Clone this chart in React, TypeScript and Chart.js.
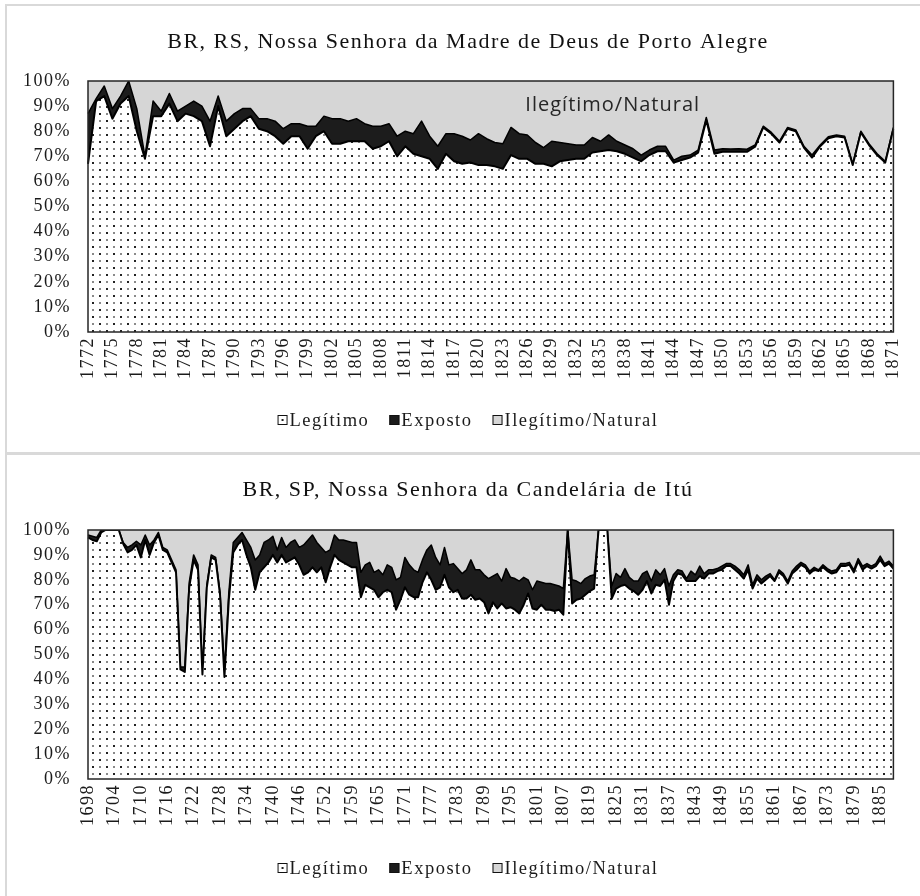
import React, { useEffect, useRef } from "react";
import { Chart, registerables } from "chart.js";

Chart.register(...registerables);

const SERIF = "'Liberation Serif', 'Times New Roman', serif";
const SANS = "'Open Sans', 'Noto Sans', sans-serif";

const span = (a: number, b: number): string[] => {
  const r: string[] = [];
  for (let y = a; y <= b; y++) r.push(String(y));
  return r;
};

// ---------- Panel 1: BR, RS, Porto Alegre ----------
const rsYears = span(1772, 1871);
const rsLegitimo = [
  67, 92, 94, 85, 91, 94, 80, 69, 86, 86,
  91, 84, 87, 86, 84, 74, 90, 78, 81, 84,
  86, 81, 80, 78, 75, 78, 78, 73, 78, 80,
  75, 75, 76, 76, 76, 73, 74, 76, 70, 74,
  71, 70, 69, 65, 71, 68, 67, 67.5, 66.5, 66.5,
  66, 65, 70.5, 69, 69, 67, 67, 66, 68, 68.5,
  69, 69, 71.5, 72, 72.5, 72, 71, 69.5, 68, 70.5,
  72, 72, 67.5, 68.5, 69.5, 71.5, 84.5, 71, 71.8, 71.8,
  71.8, 71.8, 73.8, 81.5, 79, 75.5, 81, 80, 73.5, 69.5,
  74, 77.2, 78, 77.5, 66.5, 79.5, 74.5, 70.5, 67.5, 81,
];
const rsExposto = [
  20, 1, 4, 4, 3, 6, 9, 1, 6, 2,
  4, 4, 3, 6, 6, 10, 4, 6, 6, 5,
  3, 4, 5, 6, 6, 5, 5, 9, 4, 6,
  10, 10, 8, 9, 7, 9, 8, 7, 8, 6,
  8, 14, 9, 9, 8, 11, 11, 9, 12.5, 10.5,
  9.5, 10, 11, 10, 9.5, 8.5, 6.5, 10, 7.5, 6.5,
  5.5, 5.5, 6, 4, 6, 4, 3.5, 3.5, 2.5, 2,
  2, 2, 1, 1.5, 1, 1, 1, 1.5, 1.2, 1.1,
  1.2, 1, 0.7, 0.5, 0.5, 0.5, 0.5, 0.5, 0.5, 1,
  0.5, 0.6, 0.5, 0.5, 0.5, 0.5, 0.5, 0.5, 0.5, 0.5,
];
const rsIlegitimo = [
  13, 7, 2, 11, 6, 0, 11, 30, 8, 12,
  5, 12, 10, 8, 10, 16, 6, 16, 13, 11,
  11, 15, 15, 16, 19, 17, 17, 18, 18, 14,
  15, 15, 16, 15, 17, 18, 18, 17, 22, 20,
  21, 16, 22, 26, 21, 21, 22, 23.5, 21, 23,
  24.5, 25, 18.5, 21, 21.5, 24.5, 26.5, 24, 24.5, 25,
  25.5, 25.5, 22.5, 24, 21.5, 24, 25.5, 27, 29.5, 27.5,
  26, 26, 31.5, 30, 29.5, 27.5, 14.5, 27.5, 27, 27.1,
  27, 27.2, 25.5, 18, 20.5, 24, 18.5, 19.5, 26, 29.5,
  25.5, 22.2, 21.5, 22, 33, 20, 25, 29, 32, 18.5,
];

// ---------- Panel 2: BR, SP, Itú ----------
const spYears = [
  ...span(1698, 1752),
  "1754", "1755", "1756", "1757", "1758",
  ...span(1759, 1807),
  "1808", "1809", "1812", "1815", "1817",
  ...span(1819, 1888),
];
const spLegitimo = [
  97, 96, 95.5, 99, 100, 100, 100, 100, 94.5, 91,
  92, 94, 89, 96, 90, 95, 98, 92, 91, 87,
  83, 44, 43, 77, 88, 84, 42, 77, 89, 88,
  74, 41, 72, 91, 94, 96, 90, 85, 76, 83,
  85, 87, 90, 87, 90, 87, 88, 89, 86, 82,
  83, 85, 83, 85, 79, 85, 90, 88, 87, 86,
  85, 85, 73, 78, 77, 76, 73, 75, 76, 75,
  68, 72, 77, 74, 73, 73, 79, 83, 80, 76,
  77, 82, 77, 75, 76, 72.5, 72.5, 74, 72, 72.5,
  71, 66.5, 71, 68.5, 70.5, 68.5, 69, 68, 66.5, 70,
  74.5, 68.5, 68, 70, 68, 68, 67.5, 68, 66, 100,
  70.5, 72, 72.5, 74, 75.5, 76.5, 100, 100, 100, 72.5,
  76.5, 77.5, 78, 76.5, 75.5, 74, 76, 79.5, 74.5, 78,
  77.5, 80, 70, 79.5, 82.5, 82, 79.5, 79.5, 79.5, 81.5,
  80.5, 82.5, 82.5, 83.5, 84, 85.5, 85.5, 84, 82.5, 80.5,
  84, 76.5, 80.5, 78.5, 80, 81.5, 79.5, 83, 81.5, 78.5,
  82.5, 84, 86, 85, 82.5, 84, 83.5, 85, 83.5, 82.5,
  83, 85.5, 85.5, 86, 83, 87.5, 84, 85.5, 84.5, 85.5,
  88, 85.5, 86.5, 84.5,
];
const spExposto = [
  1, 1.5, 1.5, 1, 0, 0, 0, 0, 0.5, 2,
  2, 1.5, 5, 2, 4, 1, 1, 1, 1, 1,
  1, 1, 2, 2, 2, 2, 1, 1, 1, 1,
  1, 3, 3, 4, 3, 3, 6, 8, 12, 7,
  10, 9, 7.5, 5, 7, 6, 7, 7, 7, 12,
  13, 13, 12, 8, 12, 7, 8, 8, 9, 9.5,
  10, 10, 10, 8, 10, 7, 11, 7, 10, 10,
  12, 9, 12, 12, 11, 10, 9, 9, 14, 13,
  9, 11, 9, 11.5, 8.5, 10, 11.5, 14, 12, 11.5,
  11, 14, 10.5, 14, 9, 16, 12, 12.5, 13, 11,
  5.5, 7.5, 11.5, 9, 10.5, 10.5, 10.5, 9.5, 10.5, 0,
  9.5, 7.5, 6, 6.5, 6, 5.5, 0, 0, 0, 5,
  6, 3.5, 6.5, 4.5, 4, 5.5, 6.5, 4, 5, 6,
  4.5, 4.5, 7.5, 2.5, 1.5, 1.5, 1, 4, 2.5, 4,
  2, 1.5, 1.5, 1, 1.5, 1, 1, 1.5, 1.5, 1.5,
  2, 1.5, 1.5, 1.5, 1.5, 1, 0.5, 1, 1, 1,
  1, 1.5, 1, 1, 1, 1, 0.5, 1, 1, 1,
  1, 1, 1, 1, 1, 1, 1.5, 1, 1, 1,
  1.5, 1, 1, 1,
];
const spIlegitimo = [
  2, 2.5, 3, 0, 0, 0, 0, 0, 5, 7,
  6, 4.5, 6, 2, 6, 4, 1, 7, 8, 12,
  16, 55, 55, 21, 10, 14, 57, 22, 10, 11,
  25, 56, 25, 5, 3, 1, 4, 7, 12, 10,
  5, 4, 2.5, 8, 3, 7, 5, 4, 7, 6,
  4, 2, 5, 7, 9, 8, 2, 4, 4, 4.5,
  5, 5, 17, 14, 13, 17, 16, 18, 14, 15,
  20, 19, 11, 14, 16, 17, 12, 8, 6, 11,
  14, 7, 14, 13.5, 15.5, 17.5, 16, 12, 16, 16,
  18, 19.5, 18.5, 17.5, 20.5, 15.5, 19, 19.5, 20.5, 19,
  20, 24, 20.5, 21, 21.5, 21.5, 22, 22.5, 23.5, 0,
  20, 20.5, 21.5, 19.5, 18.5, 18, 0, 0, 0, 22.5,
  17.5, 19, 15.5, 19, 20.5, 20.5, 17.5, 16.5, 20.5, 16,
  18, 15.5, 22.5, 18, 16, 16.5, 19.5, 16.5, 18, 14.5,
  17.5, 16, 16, 15.5, 14.5, 13.5, 13.5, 14.5, 16, 18,
  14, 22, 18, 20, 18.5, 17.5, 20, 16, 17.5, 20.5,
  16.5, 14.5, 13, 14, 16.5, 15, 16, 14, 15.5, 16.5,
  16, 13.5, 13.5, 13, 16, 11.5, 14.5, 13.5, 14.5, 13.5,
  10.5, 13.5, 12.5, 14.5,
];

const SERIES_NAMES = ["Legítimo", "Exposto", "Ilegítimo/Natural"];
const EXPOSTO_COLOR = "#1c1c1c";
const ILEGIT_COLOR = "#d6d6d6";
const PAD_RIGHT = 21;
const Y_WIDTH = 88;
const TEXT_CENTER = 468;

function makePattern(): CanvasPattern | string {
  const c = document.createElement("canvas");
  c.width = 14;
  c.height = 14;
  const g = c.getContext("2d");
  if (!g) return "#eeeeee";
  g.fillStyle = "#ffffff";
  g.fillRect(0, 0, 14, 14);
  g.fillStyle = "#222222";
  g.fillRect(1, 1, 2, 2);
  g.fillRect(8, 8, 2, 2);
  g.fillStyle = "#8a8a8a";
  g.fillRect(8, 1, 2, 2);
  g.fillRect(1, 8, 2, 2);
  return g.createPattern(c, "repeat") || "#eeeeee";
}

type Note = { text: string; index: number; value: number };
type PanelProps = {
  top: number;
  height: number;
  title: string;
  titleY: number;
  plotTop: number;
  labels: string[];
  legit: number[];
  expo: number[];
  ileg: number[];
  every: number;
  xHeight: number;
  legendY: number;
  note?: Note;
};

function Panel(p: PanelProps) {
  const ref = useRef<HTMLCanvasElement>(null);
  useEffect(() => {
    const canvas = ref.current;
    if (!canvas) return;
    const pattern = makePattern();
    const spacing = {
      id: "spacing",
      beforeUpdate(c: any) {
        c.ctx.letterSpacing = "1.5px";
      },
      beforeDraw(c: any) {
        c.ctx.letterSpacing = "1.5px";
      },
    };
    const deco = {
      id: "deco",
      afterDraw(c: any) {
        const ctx: CanvasRenderingContext2D = c.ctx;
        const a = c.chartArea;
        ctx.save();
        // plot area border
        ctx.strokeStyle = "#262626";
        ctx.lineWidth = 1.5;
        ctx.strokeRect(a.left, a.top, a.right - a.left, a.bottom - a.top);
        // title
        (ctx as any).letterSpacing = "1.5px";
        ctx.font = `22px ${SERIF}`;
        ctx.fillStyle = "#111111";
        ctx.textAlign = "center";
        ctx.textBaseline = "middle";
        ctx.fillText(p.title, TEXT_CENTER, p.titleY);
        // annotation
        if (p.note) {
          (ctx as any).letterSpacing = "1px";
          ctx.font = `20px ${SANS}`;
          ctx.fillStyle = "#262626";
          ctx.textAlign = "center";
          ctx.textBaseline = "middle";
          ctx.fillText(
            p.note.text,
            c.scales.x.getPixelForValue(p.note.index),
            c.scales.y.getPixelForValue(p.note.value)
          );
        }
        // legend
        (ctx as any).letterSpacing = "1.5px";
        ctx.font = `18.5px ${SERIF}`;
        ctx.textAlign = "left";
        ctx.textBaseline = "middle";
        const fills: string[] = ["#ffffff", EXPOSTO_COLOR, ILEGIT_COLOR];
        const box = 10;
        const gap = 2;
        const sep = 20;
        const widths = SERIES_NAMES.map((t) => box + gap + ctx.measureText(t).width);
        const total = widths.reduce((s, w) => s + w, 0) + sep * (SERIES_NAMES.length - 1);
        let x = TEXT_CENTER - total / 2;
        const y = p.legendY;
        SERIES_NAMES.forEach((t, i) => {
          ctx.fillStyle = fills[i];
          ctx.fillRect(x, y - box / 2, box, box);
          if (i === 0) {
            ctx.fillStyle = "#222";
            ctx.fillRect(x + 4, y - 1, 2, 2);
          }
          ctx.strokeStyle = "#111";
          ctx.lineWidth = 1;
          ctx.strokeRect(x + 0.5, y - box / 2 + 0.5, box - 1, box - 1);
          ctx.fillStyle = "#1a1a1a";
          ctx.fillText(t, x + box + gap, y + 1);
          x += widths[i] + sep;
        });
        ctx.restore();
      },
    };
    const chart = new Chart(canvas, {
      type: "line",
      data: {
        labels: p.labels,
        datasets: [
          {
            label: SERIES_NAMES[0],
            data: p.legit,
            backgroundColor: pattern as any,
            borderColor: "#000000",
            borderWidth: 2,
            fill: "origin",
            pointRadius: 0,
            tension: 0,
            borderJoinStyle: "round",
          },
          {
            label: SERIES_NAMES[1],
            data: p.expo,
            backgroundColor: EXPOSTO_COLOR,
            borderColor: "#000000",
            borderWidth: 1.5,
            fill: "-1",
            pointRadius: 0,
            tension: 0,
            borderJoinStyle: "round",
          },
          {
            label: SERIES_NAMES[2],
            data: p.ileg,
            backgroundColor: ILEGIT_COLOR,
            borderColor: "rgba(0,0,0,0)",
            borderWidth: 0,
            fill: "-1",
            pointRadius: 0,
            tension: 0,
          },
        ],
      },
      options: {
        responsive: false,
        animation: false,
        events: [],
        layout: { padding: { left: 0, right: PAD_RIGHT, top: p.plotTop, bottom: 0 } },
        plugins: {
          legend: { display: false },
          tooltip: { enabled: false },
          title: { display: false },
        },
        scales: {
          x: {
            type: "category",
            offset: false,
            grid: { display: false, drawTicks: false },
            border: { display: false },
            ticks: {
              autoSkip: false,
              maxRotation: 90,
              minRotation: 90,
              padding: 5,
              color: "#1a1a1a",
              font: { family: SERIF, size: 18 },
              callback: function (this: any, val: any, idx: number) {
                return idx % p.every === 0 ? this.getLabelForValue(val) : "";
              },
            },
            afterFit: (s: any) => {
              s.height = p.xHeight;
            },
          },
          y: {
            stacked: true,
            min: 0,
            max: 100,
            grid: { display: false, drawTicks: false },
            border: { display: false },
            ticks: {
              stepSize: 10,
              padding: 17,
              color: "#1a1a1a",
              font: { family: SERIF, size: 18 },
              callback: (v: any) => `${v}%`,
            },
            afterFit: (s: any) => {
              s.width = Y_WIDTH;
            },
          },
        },
      },
      plugins: [spacing, deco],
    } as any);
    return () => chart.destroy();
  }, []);
  return (
    <canvas
      ref={ref}
      width={920}
      height={p.height}
      style={{ position: "absolute", left: 0, top: p.top, width: 920, height: p.height }}
    />
  );
}

export default function App() {
  const line = "#d9d9d9";
  return (
    <div style={{ position: "absolute", left: 0, top: 0, width: 920, height: 896, background: "#fff", overflow: "hidden" }}>
      <Panel
        top={0}
        height={450}
        title="BR, RS, Nossa Senhora da Madre de Deus de Porto Alegre"
        titleY={42}
        plotTop={81}
        labels={rsYears}
        legit={rsLegitimo}
        expo={rsExposto}
        ileg={rsIlegitimo}
        every={3}
        xHeight={118}
        legendY={420}
        note={{ text: "Ilegítimo/Natural", index: 64.5, value: 90.5 }}
      />
      <Panel
        top={450}
        height={446}
        title="BR, SP, Nossa Senhora da Candelária de Itú"
        titleY={40}
        plotTop={80}
        labels={spYears}
        legit={spLegitimo}
        expo={spExposto}
        ileg={spIlegitimo}
        every={6}
        xHeight={117}
        legendY={418}
      />
      <div style={{ position: "absolute", left: 5, top: 4, width: 915, height: 2, background: line }} />
      <div style={{ position: "absolute", left: 5, top: 4, width: 2, height: 892, background: line }} />
      <div style={{ position: "absolute", left: 5, top: 452, width: 915, height: 3, background: line }} />
    </div>
  );
}
